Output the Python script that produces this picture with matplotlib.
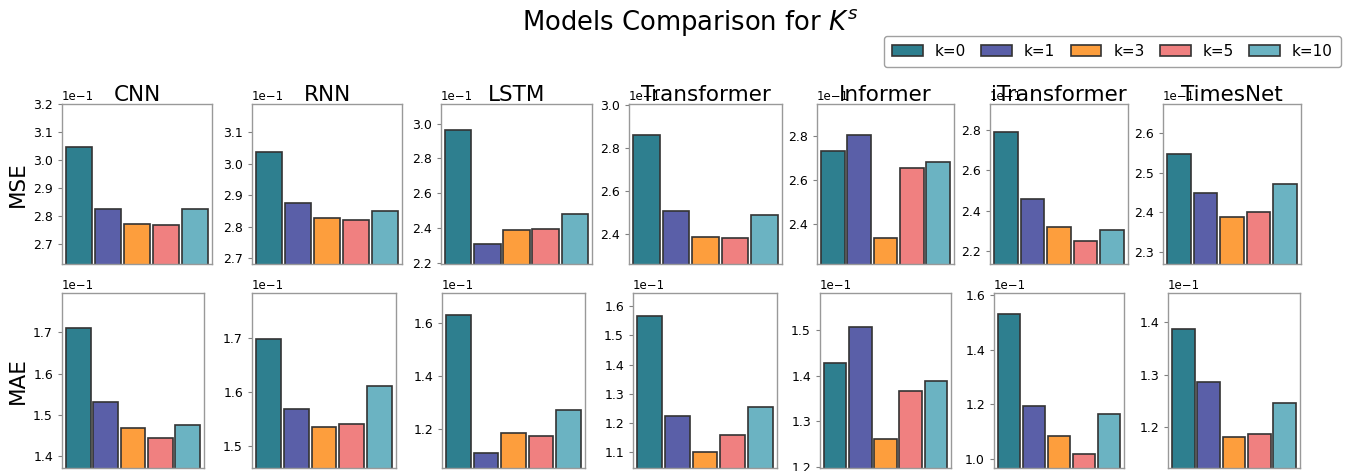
import numpy as np
import matplotlib
matplotlib.use('Agg')
import matplotlib.pyplot as plt
from matplotlib.ticker import MaxNLocator

models = ['CNN', 'RNN', 'LSTM', 'Transformer', 'Informer', 'iTransformer', 'TimesNet']
k_labels = ['k=0', 'k=1', 'k=3', 'k=5', 'k=10']
colors = ['#2E7F8F', '#5A5FA8', '#FD9E3D', '#F08080', '#6BB3C2']

# rows: model, cols: k=0,1,3,5,10
mse = [
    [0.3048, 0.2824, 0.2772, 0.2766, 0.2826],
    [0.3038, 0.2876, 0.2828, 0.2823, 0.2851],
    [0.2964, 0.2309, 0.2390, 0.2392, 0.2478],
    [0.2861, 0.2507, 0.2386, 0.2382, 0.2490],
    [0.2730, 0.2803, 0.2337, 0.2656, 0.2680],
    [0.2789, 0.2457, 0.2321, 0.2248, 0.2305],
    [0.2547, 0.2449, 0.2389, 0.2402, 0.2472],
]
mae = [
    [0.1709, 0.1532, 0.1469, 0.1444, 0.1476],
    [0.1699, 0.1568, 0.1535, 0.1540, 0.1611],
    [0.1632, 0.1110, 0.1186, 0.1175, 0.1272],
    [0.1566, 0.1224, 0.1102, 0.1159, 0.1254],
    [0.1428, 0.1506, 0.1260, 0.1365, 0.1387],
    [0.1531, 0.1195, 0.1086, 0.1018, 0.1165],
    [0.1386, 0.1287, 0.1182, 0.1187, 0.1247],
]

W, H = 1353, 471
# axes boxes in pixels (left, right) per row, plus (top, bottom)
top_x = [(62, 212), (252, 402), (441, 592), (629, 782), (817, 954), (990, 1128), (1163, 1301)]
bot_x = [(62, 204), (252, 396), (442, 585), (633, 777), (820, 951), (994, 1124), (1168, 1300)]
rows_y = [(104, 264), (293, 468)]

fig = plt.figure(figsize=(W / 100, H / 100), dpi=100)


def draw(ax, vals):
    x = np.arange(len(vals))
    ax.bar(x, vals, width=0.9, color=colors, edgecolor='#333333', linewidth=1.2,
           label=k_labels)
    ax.set_xlim(-0.6, 4.6)
    ax.set_ylim(min(vals) * 0.95, max(vals) * 1.05)
    ax.set_xticks([])
    ax.yaxis.set_major_locator(MaxNLocator(nbins=6, steps=[1, 2, 2.5, 5, 10]))
    ax.ticklabel_format(style='sci', axis='y', scilimits=(0, 0))
    ax.yaxis.get_offset_text().set_fontsize(8.5)
    ax.tick_params(axis='y', labelsize=9, length=3, color='gray')
    for s in ax.spines.values():
        s.set_color('#999999')
        s.set_linewidth(1.0)


for r, (data, xs, metric) in enumerate([(mse, top_x, 'MSE'), (mae, bot_x, 'MAE')]):
    y0, y1 = rows_y[r]
    for i, m in enumerate(models):
        l, rt = xs[i]
        ax = fig.add_axes([l / W, 1 - y1 / H, (rt - l) / W, (y1 - y0) / H])
        draw(ax, data[i])
        if r == 0:
            # fixed y keeps the title from jumping above the 1e-1 label
            ax.set_title(m, fontsize=15.5, y=1.0, pad=2)
        if i == 0:
            ax.set_ylabel(metric, fontsize=15.5)
        if r == 0 and i == 0:
            handles, labels = ax.get_legend_handles_labels()

fig.suptitle('Models Comparison for $K^s$', fontsize=18.6, x=690 / W, y=0.985)
fig.legend(handles, labels, ncol=5, fontsize=11, loc='upper right',
           bbox_to_anchor=(1349 / W, 1 - 28 / H), frameon=True, edgecolor='#888888',
           handlelength=2.0, columnspacing=1.0, borderpad=0.55)

plt.savefig('out.png', dpi=100)
